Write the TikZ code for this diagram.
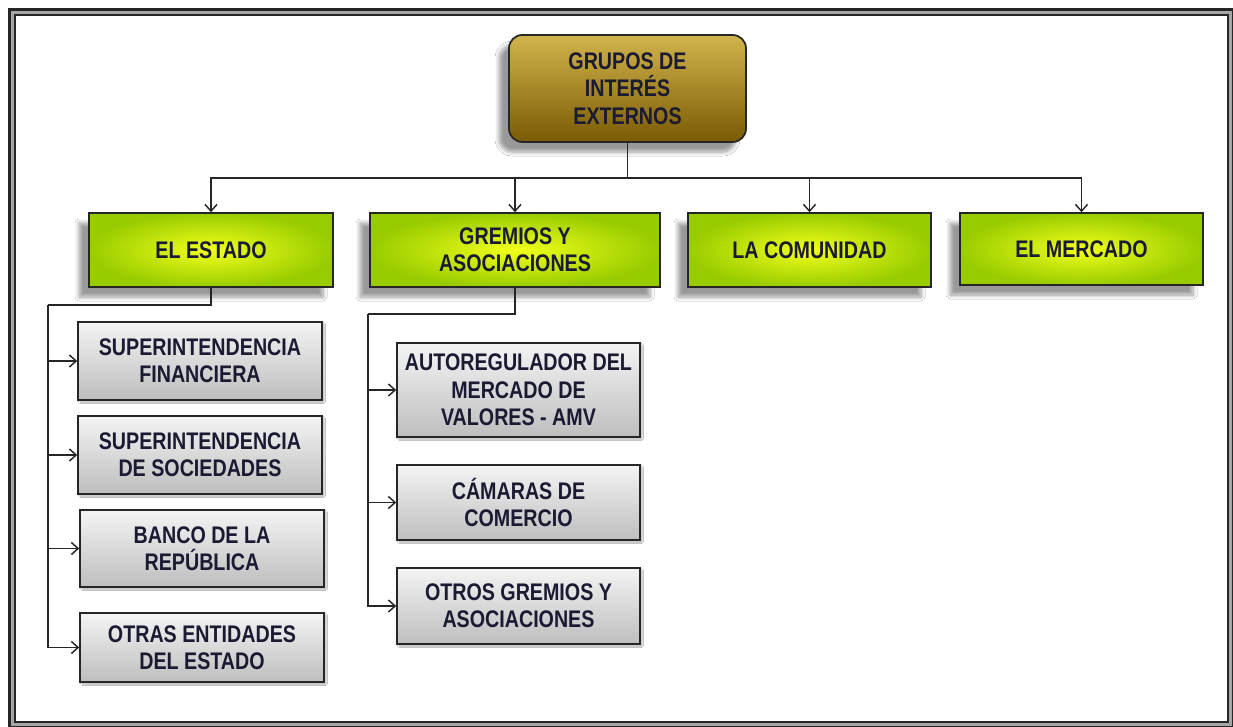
\documentclass[tikz,border=0pt]{standalone}
\usepackage{fontspec}
\setmainfont{Liberation Sans}[FakeStretch=0.82]
\usetikzlibrary{arrows.meta,shadows.blur}
\definecolor{txt}{HTML}{1A1A33}
\definecolor{goldtop}{HTML}{D2B44C}
\definecolor{goldbot}{HTML}{7A5A04}
\definecolor{greenout}{HTML}{99CC00}
\definecolor{greenin}{HTML}{F2FF1A}
\definecolor{graytop}{HTML}{F4F4F4}
\definecolor{graybot}{HTML}{BEBEBE}
\definecolor{linec}{HTML}{262626}
\tikzset{
  lbl/.style={font=\fontsize{18}{20.5}\selectfont\bfseries, text=txt, align=center, inner sep=0pt},
  rootbox/.style={lbl, draw=linec, line width=1.3pt, rounded corners=10pt,
    top color=goldtop, bottom color=goldbot,
    minimum width=177.75pt, minimum height=80.25pt,
    blur shadow={shadow xshift=-7.5pt, shadow yshift=-7.5pt, shadow blur steps=6, shadow blur radius=3pt}},
  greenbox/.style={lbl, draw=linec, line width=1.2pt,
    shading=radial, inner color=greenin, outer color=greenout,
    minimum height=55.5pt,
    blur shadow={shadow xshift=-7.5pt, shadow yshift=-7.5pt, shadow blur steps=6, shadow blur radius=3pt}},
  graybox/.style={lbl, draw=linec, line width=1.2pt,
    top color=graytop, bottom color=graybot, minimum width=183pt,
    blur shadow={shadow xshift=1.5pt, shadow yshift=-1.5pt, shadow blur steps=3, shadow blur radius=1pt, shadow opacity=30}},
  conn/.style={draw=linec, line width=1.1pt},
  arr/.style={conn, -{Straight Barb[length=5pt,width=9pt,line width=1.1pt]}},
}
\begin{document}
\begin{tikzpicture}[x=0.75pt,y=-0.75pt]
\useasboundingbox (0,0) rectangle (1233,726);
\fill[white] (0,0) rectangle (1233,726);
% frame
\draw[black!85, line width=6pt] (12,12) rectangle (1231,725);
\draw[gray!70, line width=2pt] (12.5,12.5) rectangle (1230.5,724.5);

% nodes
\node[rootbox] (root) at (627.5,88.5) {GRUPOS DE\\INTERÉS\\EXTERNOS};

\node[greenbox, minimum width=183pt] (estado) at (211,250) {EL ESTADO};
\node[greenbox, minimum width=217.5pt] (gremios) at (515,250) {GREMIOS Y\\ASOCIACIONES};
\node[greenbox, minimum width=182.25pt] (comunidad) at (809.5,250) {LA COMUNIDAD};
\node[greenbox, minimum width=182.25pt, minimum height=54pt] (mercado) at (1081.5,249) {EL MERCADO};

\node[graybox, minimum height=58.5pt] (sf) at (200,361) {SUPERINTENDENCIA\\FINANCIERA};
\node[graybox, minimum height=58.5pt] (ss) at (200,455) {SUPERINTENDENCIA\\DE SOCIEDADES};
\node[graybox, minimum height=57.75pt] (br) at (202,548.5) {BANCO DE LA\\REPÚBLICA};
\node[graybox, minimum height=51.75pt] (oe) at (202,647.5) {OTRAS ENTIDADES\\DEL ESTADO};

\node[graybox, minimum width=182.25pt, minimum height=70.5pt] (amv) at (518.5,390) {AUTOREGULADOR DEL\\MERCADO DE\\VALORES - AMV};
\node[graybox, minimum width=182.25pt, minimum height=56.25pt] (cc) at (518.5,502.5) {CÁMARAS DE\\COMERCIO};
\node[graybox, minimum width=182.25pt, minimum height=57pt] (og) at (518.5,606) {OTROS GREMIOS Y\\ASOCIACIONES};

% top-level connectors
\coordinate (bus) at (627.5,178);
\draw[conn] (root.south) -- (bus);
\draw[arr] (bus) -| (estado.north);
\draw[arr] (bus) -| (gremios.north);
\draw[arr] (bus) -| (comunidad.north);
\draw[arr] (bus) -| (mercado.north);

% estado branch
\coordinate (ek) at (48,305);
\draw[conn] (estado.south) |- (ek);
\draw[arr] (ek) |- (sf.west);
\draw[arr] (ek) |- (ss.west);
\draw[arr] (ek) |- (br.west);
\draw[arr] (ek) |- (oe.west);

% gremios branch
\coordinate (gk) at (368,314);
\draw[conn] (gremios.south) |- (gk);
\draw[arr] (gk) |- (amv.west);
\draw[arr] (gk) |- (cc.west);
\draw[arr] (gk) |- (og.west);
\end{tikzpicture}
\end{document}
